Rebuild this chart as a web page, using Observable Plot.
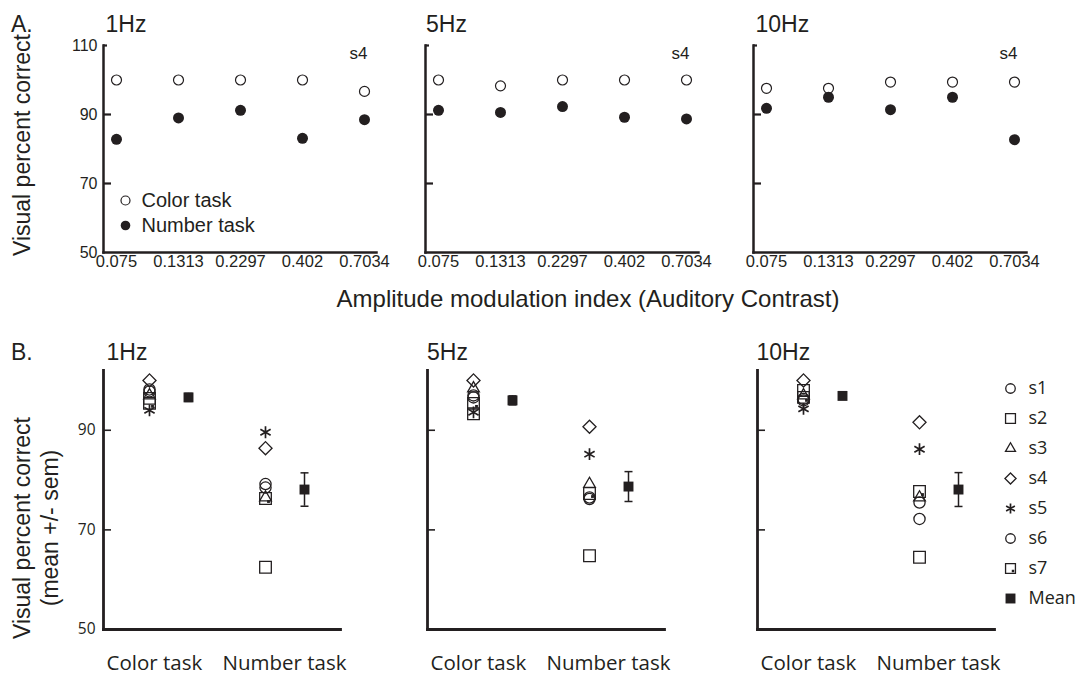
<!DOCTYPE html>
<html><head><meta charset="utf-8">
<script src="https://cdn.jsdelivr.net/npm/d3@7"></script>
<script src="https://cdn.jsdelivr.net/npm/@observablehq/plot@0.6"></script>
<style>
body{margin:0;background:#fff;}
#fig{position:relative;width:1078px;height:677px;overflow:hidden;background:#fff;}
#fig > div{position:absolute;}
#fig svg{overflow:visible;max-width:none;}
</style></head><body><div id="fig"></div>
<script>
// ---------- data: panel A (subject s4) ----------
const amIndex = ["0.075", "0.1313", "0.2297", "0.402", "0.7034"];
const frequencies = ["1Hz", "5Hz", "10Hz"];
const colorTaskA1 = [100, 100, 100, 100, 96.7];
const numberTaskA1 = [82.8, 89.0, 91.2, 83.1, 88.5];
const colorTaskA5 = [100, 98.3, 100, 100, 100];
const numberTaskA5 = [91.2, 90.6, 92.3, 89.2, 88.7];
const colorTaskA10 = [97.6, 97.6, 99.4, 99.4, 99.4];
const numberTaskA10 = [91.8, 95.0, 91.4, 95.0, 82.7];
const yTicksA = [110, 90, 70, 50];
const legendA = ["Color task", "Number task"];

// ---------- data: panel B (all subjects) ----------
const tasks = ["Color task", "Number task"];
const subjects = ["s1", "s2", "s3", "s4", "s5", "s6", "s7"];
const colorTaskB1 = [98.2, 96.4, 97.0, 100, 94.0, 97.8, 95.4];
const numberTaskB1 = [79.2, 62.5, 76.5, 86.4, 89.6, 78.5, 76.3];
const meanB1 = [96.6, 78.1];
const semB1 = [0.8, 3.35];
const colorTaskB5 = [97.0, 93.3, 98.4, 100, 93.6, 96.6, 95.4];
const numberTaskB5 = [76.5, 64.8, 79.2, 90.7, 85.2, 76.2, 77.3];
const meanB5 = [96.0, 78.7];
const semB5 = [0.9, 3.0];
const colorTaskB10 = [96.3, 98.0, 97.0, 100, 94.3, 96.0, 96.6];
const numberTaskB10 = [72.2, 64.5, 76.5, 91.6, 86.2, 75.5, 77.7];
const meanB10 = [96.9, 78.1];
const semB10 = [0.7, 3.4];
const yTicksB = [90, 70, 50];
const legendB = [...subjects, "Mean"];

// ---------- styling ----------
const INK = "#231f20";
const sansA = "'Liberation Sans', Arial, Helvetica, sans-serif";
const sansB = "'Open Sans', 'Liberation Sans', sans-serif";
const fig = document.getElementById("fig");
function place(el, left, top) {
  const d = document.createElement("div");
  d.style.left = left + "px"; d.style.top = top + "px";
  d.appendChild(el); fig.appendChild(d);
}
const capSymbol = {draw(ctx, size) { const w = Math.sqrt(size / Math.PI); ctx.moveTo(-w, 0); ctx.lineTo(w, 0); }};
const subjSymbol = {s1: "circle", s2: "square2", s3: "triangle2", s4: "diamond2", s5: "asterisk", s6: "circle", s7: "square2"};
const subjR = {s1: 5.6, s2: 7.4, s3: 5.6, s4: 5.9, s5: 5.6, s6: 5.6, s7: 7.4};
const subjW = {s1: 1.3, s2: 1.3, s3: 1.3, s4: 1.3, s5: 1.7, s6: 1.3, s7: 1.3};

// ---------- panel A ----------
function panelA(color, number, showLabels) {
  const cRows = amIndex.map((a, i) => ({a, v: color[i]}));
  const nRows = amIndex.map((a, i) => ({a, v: number[i]}));
  return Plot.plot({
    width: 381, height: 285, marginLeft: 103, marginRight: 5, marginTop: 45, marginBottom: 33,
    style: {background: "transparent", fontFamily: sansA, color: INK, overflow: "visible"},
    x: {type: "point", domain: amIndex, padding: 0.2, label: null},
    y: {domain: [50, 110], label: null},
    marks: [
      Plot.frame({anchor: "left", stroke: INK, strokeWidth: 2.5}),
      Plot.frame({anchor: "bottom", stroke: INK, strokeWidth: 2.5}),
      Plot.axisY({ticks: [90, 70], tickSize: 8, dx: 8, strokeWidth: 2.2, stroke: INK, fill: "none", label: null}),
      Plot.axisY({ticks: [110], tickSize: 4, dx: 4, strokeWidth: 2.2, stroke: INK, fill: "none", label: null}),
      showLabels ? Plot.axisY({ticks: yTicksA, tickSize: 0, tickPadding: 6, fontSize: 16, fill: INK, label: null}) : null,
      Plot.axisX({tickSize: 0, tickPadding: 3, fontSize: 16.5, fill: INK, label: null}),
      Plot.dot(cRows, {x: "a", y: "v", r: 5, stroke: INK, fill: "white", strokeWidth: 1.2}),
      Plot.dot(nRows, {x: "a", y: "v", r: 5.5, fill: INK, stroke: "none"}),
      Plot.text(["s4"], {text: d => d, frameAnchor: "top-right", textAnchor: "end", dx: -9, dy: 1, lineAnchor: "top", fontSize: 17, fill: INK})
    ]
  });
}

// ---------- panel B ----------
function panelB(color, number, mean, sem, showLabels) {
  const rows = subjects.flatMap((s, i) => [{task: tasks[0], s, v: color[i]}, {task: tasks[1], s, v: number[i]}]);
  const mRows = tasks.map((t, i) => ({task: t, m: mean[i], lo: mean[i] - sem[i], hi: mean[i] + sem[i]}));
  const ML = 103;
  return Plot.plot({
    width: 345, height: 337, marginLeft: ML, marginRight: 5, marginTop: 30, marginBottom: 48,
    style: {background: "transparent", fontFamily: sansB, color: INK, overflow: "visible"},
    x: {type: "point", domain: tasks, range: [ML + 46, ML + 162], padding: 0, label: null},
    y: {domain: [50, 102], label: null},
    marks: [
      Plot.frame({anchor: "left", stroke: INK, strokeWidth: 2.8}),
      Plot.frame({anchor: "bottom", stroke: INK, strokeWidth: 2.8}),
      Plot.axisY({ticks: [90, 70], tickSize: 8, dx: 8, strokeWidth: 1.6, stroke: INK, fill: "none", label: null}),
      showLabels ? Plot.axisY({ticks: yTicksB, tickSize: 0, tickPadding: 8, fontSize: 15.5, fill: INK, label: null}) : null,
      Plot.axisX({tickSize: 0, tickPadding: 26, textAnchor: "start", dx: -43, fontSize: 20.5, fill: INK, label: null}),
      ...subjects.map(s => Plot.dot(rows.filter(d => d.s === s), {x: "task", y: "v", symbol: subjSymbol[s], r: subjR[s], stroke: INK, fill: "none", strokeWidth: subjW[s]})),
      Plot.dot(rows.filter(d => d.s === "s7"), {x: "task", y: "v", symbol: "square", r: 1.6, fill: INK, dx: 3, dy: 3}),
      Plot.ruleX(mRows, {x: "task", y1: "lo", y2: "hi", dx: 39, stroke: INK, strokeWidth: 1.5}),
      Plot.dot(mRows, {x: "task", y: "lo", symbol: capSymbol, r: 4, dx: 39, stroke: INK, strokeWidth: 1.5}),
      Plot.dot(mRows, {x: "task", y: "hi", symbol: capSymbol, r: 4, dx: 39, stroke: INK, strokeWidth: 1.5}),
      Plot.dot(mRows, {x: "task", y: "m", symbol: "square", r: 5.6, dx: 39, fill: INK})
    ]
  });
}

// ---------- legends ----------
function legendPlotA() {
  return Plot.plot({
    width: 160, height: 60, marginLeft: 0, marginRight: 130, marginTop: 0, marginBottom: 0,
    style: {background: "transparent", fontFamily: sansA, color: INK, overflow: "visible"},
    x: {axis: null}, y: {type: "point", domain: legendA, range: [15, 40], padding: 0, axis: null},
    marks: [
      Plot.dot([legendA[0]], {y: d => d, r: 4.5, stroke: INK, fill: "white", strokeWidth: 1.2}),
      Plot.dot([legendA[1]], {y: d => d, r: 4.8, fill: INK}),
      Plot.text(legendA, {y: d => d, text: d => d, textAnchor: "start", dx: 16, fontSize: 20, fill: INK})
    ]
  });
}
function legendPlotB() {
  return Plot.plot({
    width: 78, height: 245, marginLeft: 0, marginRight: 58, marginTop: 0, marginBottom: 0,
    style: {background: "transparent", fontFamily: sansB, color: INK, overflow: "visible"},
    x: {axis: null}, y: {type: "point", domain: legendB, range: [15, 230], padding: 0, axis: null},
    marks: [
      ...subjects.map(s => Plot.dot([s], {y: d => d, symbol: subjSymbol[s], r: subjR[s] * 0.85, stroke: INK, fill: "none", strokeWidth: subjW[s]})),
      Plot.dot(["s7"], {y: d => d, symbol: "square", r: 1.4, fill: INK, dx: 2.5, dy: 2.5}),
      Plot.dot(["Mean"], {y: d => d, symbol: "square", r: 5.6, fill: INK}),
      Plot.text(legendB, {y: d => d, text: d => d, textAnchor: "start", dx: 18, fontSize: 18, fill: INK})
    ]
  });
}

// ---------- assemble ----------
place(panelA(colorTaskA1, numberTaskA1, true), 0, 0);
place(panelA(colorTaskA5, numberTaskA5, false), 322, 0);
place(panelA(colorTaskA10, numberTaskA10, false), 650, 0);
place(legendPlotA(), 110, 185);
place(panelB(colorTaskB1, numberTaskB1, meanB1, semB1, true), 0, 340);
place(panelB(colorTaskB5, numberTaskB5, meanB5, semB5, false), 324, 340);
place(panelB(colorTaskB10, numberTaskB10, meanB10, semB10, false), 654, 340);
place(legendPlotB(), 1000, 370);

// ---------- titles & axis titles ----------
const ov = d3.create("svg").attr("width", 1078).attr("height", 677)
  .style("position", "absolute").style("left", "0px").style("top", "0px").style("pointer-events", "none");
function label(x, y, s, size, family, anchor = "start", rotate = 0) {
  ov.append("text").attr("transform", `translate(${x},${y}) rotate(${rotate})`)
    .attr("text-anchor", anchor).attr("font-family", family).attr("font-size", size)
    .attr("fill", INK).text(s);
}
label(11, 32, "A.", 23, sansA);
label(11, 360, "B.", 23, sansA);
const titleX = [105.5, 426, 755.5];
frequencies.forEach((f, i) => { label(titleX[i], 32, f, 23, sansA); label(titleX[i] + 1, 360, f, 23, sansA); });
label(30, 145, "Visual percent correct", 23, sansA, "middle", -90);
label(588, 307, "Amplitude modulation index (Auditory Contrast)", 24, sansA, "middle");
label(30, 528, "Visual percent correct", 23, sansA, "middle", -90);
label(58, 528, "(mean +/- sem)", 23, sansA, "middle", -90);
fig.appendChild(ov.node());
</script></body></html>
